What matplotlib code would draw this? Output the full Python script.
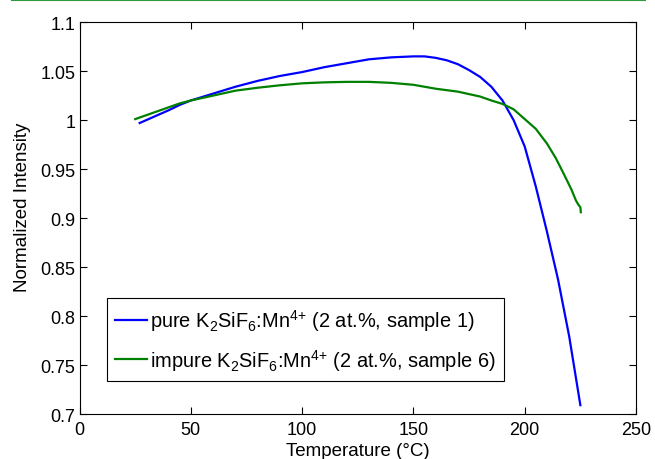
import numpy as np
import matplotlib
matplotlib.use("Agg")
import matplotlib.pyplot as plt
from matplotlib.lines import Line2D

plt.rcParams["font.family"] = ["Liberation Sans", "DejaVu Sans"]
plt.rcParams["mathtext.default"] = "regular"

# pure K2SiF6:Mn4+ (sample 1)
temp_pure = [27, 30, 35, 40, 45, 50, 60, 70, 80, 90, 100, 110, 120, 130, 140,
             150, 155, 160, 165, 170, 175, 180, 185, 190, 195, 200, 205, 210,
             215, 220, 225]
int_pure = [0.997, 1.000, 1.005, 1.010, 1.0155, 1.020, 1.027, 1.034, 1.040,
            1.045, 1.049, 1.054, 1.058, 1.062, 1.064, 1.065, 1.065, 1.0635,
            1.061, 1.057, 1.051, 1.044, 1.034, 1.020, 1.000, 0.973, 0.932,
            0.886, 0.837, 0.779, 0.709]

# impure K2SiF6:Mn4+ (sample 6)
temp_impure = [25, 30, 35, 40, 45, 50, 60, 70, 80, 90, 100, 110, 120, 130,
               140, 150, 160, 170, 180, 185, 190, 195, 200, 205, 210, 214,
               218, 221, 223, 224, 225, 225.2]
int_impure = [1.001, 1.005, 1.009, 1.013, 1.017, 1.020, 1.025, 1.030, 1.033,
              1.0355, 1.0375, 1.0385, 1.039, 1.039, 1.038, 1.036, 1.032,
              1.029, 1.024, 1.020, 1.0165, 1.011, 1.001, 0.991, 0.976, 0.961,
              0.943, 0.929, 0.918, 0.914, 0.911, 0.906]

labels = [r"pure K$_2$SiF$_6$:Mn$^{4{+}}$ (2 at.%, sample 1)",
          r"impure K$_2$SiF$_6$:Mn$^{4{+}}$ (2 at.%, sample 6)"]

fig = plt.figure(figsize=(6.55, 4.6), dpi=100)
ax = fig.add_axes([0.1215, 0.0978, 0.8495, 0.852])

ax.plot(temp_pure, int_pure, color="#0000ff", lw=1.6, label=labels[0])
ax.plot(temp_impure, int_impure, color="#008000", lw=1.6, label=labels[1])

ax.set_xlim(0, 250)
ax.set_ylim(0.7, 1.1)
ax.set_xticks(np.arange(0, 251, 50))
ax.set_yticks(np.arange(0.7, 1.101, 0.05))
ax.set_yticklabels(["0.7", "0.75", "0.8", "0.85", "0.9", "0.95", "1", "1.05", "1.1"])
ax.tick_params(direction="in", top=True, right=True, length=5, width=0.8,
               labelsize=13)
ax.tick_params(axis="x", pad=5)
ax.tick_params(axis="y", pad=3)
for s in ax.spines.values():
    s.set_linewidth(0.8)

ax.set_xlabel("Temperature (°C)", fontsize=13.5, labelpad=3)
ax.set_ylabel("Normalized Intensity", fontsize=13.5)
ax.yaxis.set_label_coords(-0.088, 0.53)

leg = ax.legend(loc="lower left", bbox_to_anchor=(0.049, 0.084), fontsize=14.4,
                fancybox=False, edgecolor="black", framealpha=1,
                handlelength=1.6, handletextpad=0.15, borderpad=0.42,
                labelspacing=0.7, borderaxespad=0)
leg.get_frame().set_linewidth(0.8)

# green rule at the top of the figure
fig.add_artist(Line2D([0.018, 0.985], [0.998, 0.998], color="#2e9a3e", lw=1.5,
                      transform=fig.transFigure))

fig.savefig("out.png", dpi=100)
